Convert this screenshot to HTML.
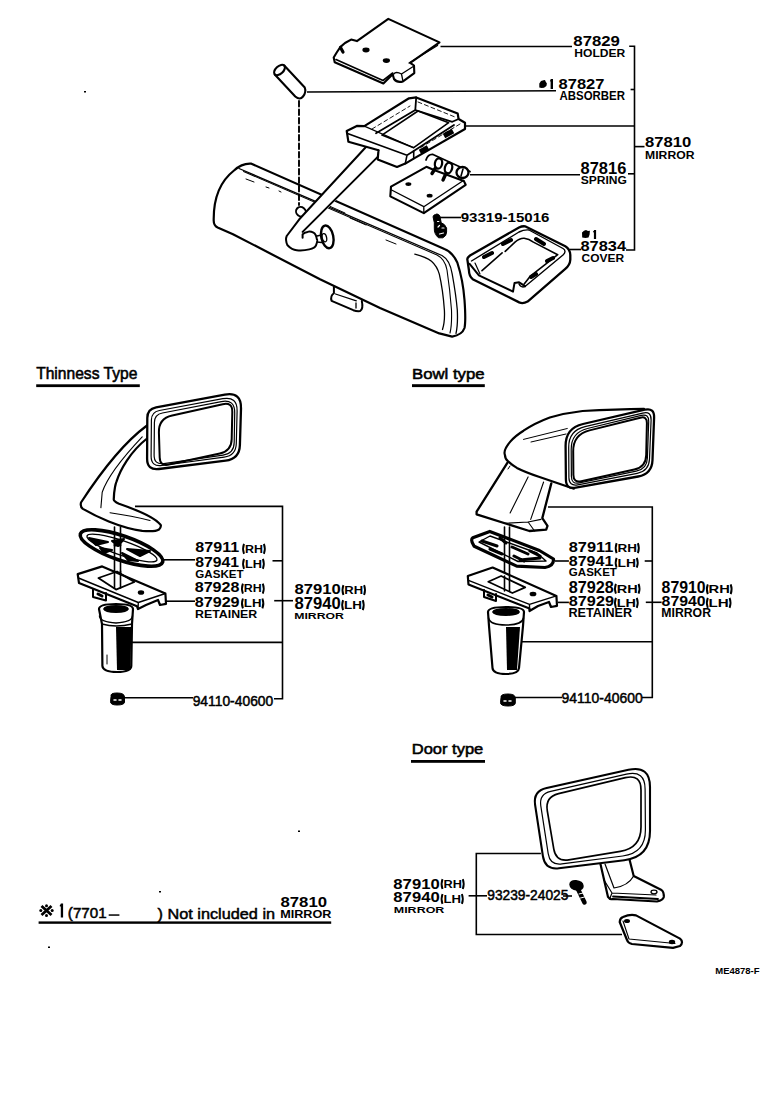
<!DOCTYPE html>
<html><head><meta charset="utf-8">
<style>
html,body{margin:0;padding:0;background:#fff;width:776px;height:1118px;overflow:hidden}
svg{display:block}
.b{font-family:"Liberation Sans",sans-serif;font-weight:bold;fill:#000}
.r{font-family:"Liberation Sans",sans-serif;fill:#000}
.l{stroke:#000;stroke-width:1.6;fill:none}
</style></head><body>
<svg width="776" height="1118" viewBox="0 0 776 1118">
<text class="b" x="573.37" y="46.30" font-size="14.97" textLength="46.55" lengthAdjust="spacingAndGlyphs">87829</text>
<text class="b" x="574.29" y="56.60" font-size="10.90" textLength="50.95" lengthAdjust="spacingAndGlyphs">HOLDER</text>
<text class="b" x="558.58" y="88.80" font-size="14.97" textLength="45.85" lengthAdjust="spacingAndGlyphs">87827</text>
<text class="b" x="559.52" y="99.50" font-size="12.35" textLength="65.42" lengthAdjust="spacingAndGlyphs">ABSORBER</text>
<text class="b" x="645.07" y="147.40" font-size="15.54" textLength="46.31" lengthAdjust="spacingAndGlyphs">87810</text>
<text class="b" x="645.09" y="158.70" font-size="11.77" textLength="49.36" lengthAdjust="spacingAndGlyphs">MIRROR</text>
<text class="b" x="580.58" y="174.30" font-size="15.96" textLength="45.72" lengthAdjust="spacingAndGlyphs">87816</text>
<text class="b" x="580.75" y="184.40" font-size="11.63" textLength="46.19" lengthAdjust="spacingAndGlyphs">SPRING</text>
<text class="b" x="580.48" y="251.10" font-size="14.83" textLength="45.61" lengthAdjust="spacingAndGlyphs">87834</text>
<text class="b" x="581.51" y="262.00" font-size="11.63" textLength="42.54" lengthAdjust="spacingAndGlyphs">COVER</text>
<text class="b" x="460.68" y="221.60" font-size="12.99" textLength="88.77" lengthAdjust="spacingAndGlyphs">93319-15016</text>
<text class="r" x="36.15" y="379.30" font-size="15.70" textLength="101.23" lengthAdjust="spacingAndGlyphs" stroke="#000" stroke-width="0.55">Thinness Type</text>
<text class="b" x="195.30" y="552.40" font-size="14.55" textLength="43.84" lengthAdjust="spacingAndGlyphs">87911</text>
<text class="b" x="244.97" y="552.60" font-size="11.05" textLength="17.97" lengthAdjust="spacingAndGlyphs">RH</text><path d="M244.0 543.9Q242.1 548.9 244.0 553.8" stroke="#000" stroke-width="1.9" fill="none"/><path d="M263.9 543.9Q265.8 548.9 263.9 553.8" stroke="#000" stroke-width="1.9" fill="none"/>
<text class="b" x="195.30" y="567.20" font-size="15.40" textLength="43.84" lengthAdjust="spacingAndGlyphs">87941</text>
<text class="b" x="244.95" y="567.60" font-size="11.05" textLength="17.01" lengthAdjust="spacingAndGlyphs">LH</text><path d="M244.0 558.9Q242.1 563.9 244.0 568.8" stroke="#000" stroke-width="1.9" fill="none"/><path d="M262.9 558.9Q264.8 563.9 262.9 568.8" stroke="#000" stroke-width="1.9" fill="none"/>
<text class="b" x="195.32" y="577.50" font-size="10.90" textLength="48.30" lengthAdjust="spacingAndGlyphs">GASKET</text>
<text class="b" x="194.69" y="592.30" font-size="13.98" textLength="44.81" lengthAdjust="spacingAndGlyphs">87928</text>
<text class="b" x="243.87" y="592.40" font-size="11.05" textLength="17.97" lengthAdjust="spacingAndGlyphs">RH</text><path d="M242.9 583.7Q241.0 588.6 242.9 593.6" stroke="#000" stroke-width="1.9" fill="none"/><path d="M262.8 583.7Q264.7 588.6 262.8 593.6" stroke="#000" stroke-width="1.9" fill="none"/>
<text class="b" x="194.69" y="607.20" font-size="14.55" textLength="44.91" lengthAdjust="spacingAndGlyphs">87929</text>
<text class="b" x="243.81" y="607.20" font-size="11.05" textLength="17.68" lengthAdjust="spacingAndGlyphs">LH</text><path d="M242.9 598.5Q241.0 603.5 242.9 608.4" stroke="#000" stroke-width="1.9" fill="none"/><path d="M262.4 598.5Q264.3 603.5 262.4 608.4" stroke="#000" stroke-width="1.9" fill="none"/>
<text class="b" x="194.99" y="617.50" font-size="10.32" textLength="62.26" lengthAdjust="spacingAndGlyphs">RETAINER</text>
<text class="b" x="294.47" y="593.80" font-size="15.25" textLength="46.31" lengthAdjust="spacingAndGlyphs">87910</text>
<text class="b" x="344.33" y="593.80" font-size="11.05" textLength="18.85" lengthAdjust="spacingAndGlyphs">RH</text><path d="M343.4 585.1Q341.5 590.0 343.4 595.0" stroke="#000" stroke-width="1.9" fill="none"/><path d="M364.1 585.1Q366.0 590.0 364.1 595.0" stroke="#000" stroke-width="1.9" fill="none"/>
<text class="b" x="294.47" y="609.00" font-size="16.67" textLength="46.31" lengthAdjust="spacingAndGlyphs">87940</text>
<text class="b" x="344.00" y="608.90" font-size="11.05" textLength="17.90" lengthAdjust="spacingAndGlyphs">LH</text><path d="M343.1 600.2Q341.2 605.1 343.1 610.1" stroke="#000" stroke-width="1.9" fill="none"/><path d="M362.8 600.2Q364.7 605.1 362.8 610.1" stroke="#000" stroke-width="1.9" fill="none"/>
<text class="b" x="294.18" y="618.50" font-size="9.74" textLength="49.77" lengthAdjust="spacingAndGlyphs">MIRROR</text>
<text class="r" x="192.66" y="705.80" font-size="14.55" textLength="80.57" lengthAdjust="spacingAndGlyphs" stroke="#000" stroke-width="0.5">94110-40600</text>
<text class="r" x="412.03" y="379.10" font-size="15.12" textLength="72.62" lengthAdjust="spacingAndGlyphs" stroke="#000" stroke-width="0.55">Bowl type</text>
<text class="b" x="568.79" y="551.70" font-size="14.41" textLength="44.55" lengthAdjust="spacingAndGlyphs">87911</text>
<text class="b" x="617.50" y="551.90" font-size="11.05" textLength="19.51" lengthAdjust="spacingAndGlyphs">RH</text><path d="M616.6 543.2Q614.7 548.1 616.6 553.1" stroke="#000" stroke-width="1.9" fill="none"/><path d="M637.9 543.2Q639.8 548.1 637.9 553.1" stroke="#000" stroke-width="1.9" fill="none"/>
<text class="b" x="568.79" y="566.30" font-size="14.69" textLength="44.55" lengthAdjust="spacingAndGlyphs">87941</text>
<text class="b" x="617.47" y="566.50" font-size="11.05" textLength="18.46" lengthAdjust="spacingAndGlyphs">LH</text><path d="M616.6 557.8Q614.7 562.8 616.6 567.7" stroke="#000" stroke-width="1.9" fill="none"/><path d="M636.8 557.8Q638.7 562.8 636.8 567.7" stroke="#000" stroke-width="1.9" fill="none"/>
<text class="b" x="568.83" y="576.30" font-size="11.19" textLength="48.10" lengthAdjust="spacingAndGlyphs">GASKET</text>
<text class="b" x="568.79" y="592.50" font-size="15.68" textLength="45.11" lengthAdjust="spacingAndGlyphs">87928</text>
<text class="b" x="616.72" y="592.50" font-size="11.05" textLength="21.06" lengthAdjust="spacingAndGlyphs">RH</text><path d="M615.9 583.8Q614.0 588.8 615.9 593.7" stroke="#000" stroke-width="1.9" fill="none"/><path d="M638.6 583.8Q640.5 588.8 638.6 593.7" stroke="#000" stroke-width="1.9" fill="none"/>
<text class="b" x="568.78" y="606.40" font-size="14.97" textLength="45.22" lengthAdjust="spacingAndGlyphs">87929</text>
<text class="b" x="616.73" y="606.60" font-size="11.05" textLength="19.24" lengthAdjust="spacingAndGlyphs">LH</text><path d="M615.9 597.9Q614.0 602.9 615.9 607.8" stroke="#000" stroke-width="1.9" fill="none"/><path d="M636.8 597.9Q638.7 602.9 636.8 607.8" stroke="#000" stroke-width="1.9" fill="none"/>
<text class="b" x="568.47" y="617.30" font-size="12.35" textLength="63.69" lengthAdjust="spacingAndGlyphs">RETAINER</text>
<text class="b" x="661.60" y="593.00" font-size="15.68" textLength="44.05" lengthAdjust="spacingAndGlyphs">87910</text>
<text class="b" x="708.61" y="593.00" font-size="11.05" textLength="21.28" lengthAdjust="spacingAndGlyphs">RH</text><path d="M707.8 584.3Q705.9 589.2 707.8 594.2" stroke="#000" stroke-width="1.9" fill="none"/><path d="M730.7 584.3Q732.6 589.2 730.7 594.2" stroke="#000" stroke-width="1.9" fill="none"/>
<text class="b" x="661.60" y="606.40" font-size="14.97" textLength="44.05" lengthAdjust="spacingAndGlyphs">87940</text>
<text class="b" x="708.58" y="606.60" font-size="11.05" textLength="20.24" lengthAdjust="spacingAndGlyphs">LH</text><path d="M707.8 597.9Q705.9 602.9 707.8 607.8" stroke="#000" stroke-width="1.9" fill="none"/><path d="M729.6 597.9Q731.5 602.9 729.6 607.8" stroke="#000" stroke-width="1.9" fill="none"/>
<text class="b" x="661.28" y="617.30" font-size="12.35" textLength="49.77" lengthAdjust="spacingAndGlyphs">MIRROR</text>
<text class="r" x="561.56" y="703.20" font-size="14.55" textLength="81.08" lengthAdjust="spacingAndGlyphs" stroke="#000" stroke-width="0.5">94110-40600</text>
<text class="r" x="411.75" y="753.80" font-size="15.12" textLength="71.49" lengthAdjust="spacingAndGlyphs" stroke="#000" stroke-width="0.55">Door type</text>
<text class="b" x="393.37" y="888.60" font-size="15.40" textLength="46.31" lengthAdjust="spacingAndGlyphs">87910</text>
<text class="b" x="443.45" y="887.80" font-size="11.05" textLength="18.41" lengthAdjust="spacingAndGlyphs">RH</text><path d="M442.5 879.1Q440.6 884.0 442.5 889.0" stroke="#000" stroke-width="1.9" fill="none"/><path d="M462.8 879.1Q464.7 884.0 462.8 889.0" stroke="#000" stroke-width="1.9" fill="none"/>
<text class="b" x="393.37" y="902.20" font-size="14.55" textLength="46.31" lengthAdjust="spacingAndGlyphs">87940</text>
<text class="b" x="443.42" y="902.70" font-size="11.05" textLength="17.57" lengthAdjust="spacingAndGlyphs">LH</text><path d="M442.5 894.0Q440.6 899.0 442.5 903.9" stroke="#000" stroke-width="1.9" fill="none"/><path d="M461.9 894.0Q463.8 899.0 461.9 903.9" stroke="#000" stroke-width="1.9" fill="none"/>
<text class="b" x="393.77" y="912.50" font-size="9.30" textLength="50.59" lengthAdjust="spacingAndGlyphs">MIRROR</text>
<text class="r" x="487.25" y="900.40" font-size="13.84" textLength="81.12" lengthAdjust="spacingAndGlyphs" stroke="#000" stroke-width="0.5">93239-24025</text>
<text class="r" x="67.86" y="917.50" font-size="14.55" textLength="38.78" lengthAdjust="spacingAndGlyphs" stroke="#000" stroke-width="0.5">(7701</text>
<text class="r" x="157.50" y="919.00" font-size="15.55" textLength="117.55" lengthAdjust="spacingAndGlyphs" stroke="#000" stroke-width="0.5">) Not included in</text>
<text class="b" x="280.47" y="907.00" font-size="13.84" textLength="46.52" lengthAdjust="spacingAndGlyphs">87810</text>
<text class="b" x="280.15" y="918.00" font-size="10.61" textLength="51.31" lengthAdjust="spacingAndGlyphs">MIRROR</text>
<text class="b" x="715.27" y="973.50" font-size="9.01" textLength="44.28" lengthAdjust="spacingAndGlyphs">ME4878-F</text>
<g class="l">
<path d="M440.5 46.5H572"/>
<path d="M307 92L556 90.8"/>
<path d="M464 126H634.5"/>
<path d="M470 174.8H580"/>
<path d="M439 217.5H461"/>
<path d="M569.5 249.5H581"/>
<path d="M629.2 46.2H634.5V250H626"/>
<path d="M630.6 89.5H634.5"/>
<path d="M634.5 146.6H644.5"/>
<path d="M628 173.8H634.5"/>
<path d="M135 506.4H282.5V698.8H274"/>
<path d="M164 559.8H195"/>
<path d="M272.5 560.8H282.5"/>
<path d="M166 601.2H195"/>
<path d="M274.2 600.7H293"/>
<path d="M131 642.4H282.5"/>
<path d="M123 697.8H193"/>
<path d="M548 507H652.3V697.5H642"/>
<path d="M555 561H568.9"/>
<path d="M644.7 561H652.3"/>
<path d="M558 602.4H568.9"/>
<path d="M645.8 602.3H661.6"/>
<path d="M522 641.8H652.3"/>
<path d="M515 697.5H562"/>
<path d="M540.9 853.5H476.3V934.5H622"/>
<path d="M468.6 895.8H487"/>
<path d="M572 896H563"/>
</g>
<g fill="#000">
<rect x="36.2" y="384.3" width="103.6" height="2.8"/>
<rect x="412" y="384.2" width="72.8" height="2.9"/>
<rect x="411" y="760" width="74" height="2.8"/>
<rect x="38.6" y="921.4" width="292.6" height="2.4"/>
<path d="M108.7 914.3H119.4V915.8H108.7Z"/>
</g>
<!-- star marks -->
<g fill="#000">
<path d="M539.3 83.5L541 81L543.5 80.2L545 79.9L545.6 81.5L546.9 83.5L546.4 86L544 87.7L541.5 88L539.3 87.5Z"/>
<path d="M582 232.5L584 230.7L586 229.9L588 231L589.9 230.7L589.6 234.5L588.5 237.5L585.5 238L582.2 237.4Z"/>
<path d="M550.6 79H553V88.9H550.6ZM549.8 81.3L550.8 79.2L551 81.8Z"/>
<path d="M593.9 229.9H596.1V238.9H593.9ZM592.9 232L594 230L594.2 232.8Z"/>
<path d="M60.8 903.4H63.1V917.5H60.8ZM59.5 906L61 903.6L61.2 907Z"/>
<rect x="298" y="830.5" width="2" height="1.5"/>
<rect x="159" y="891" width="2" height="1.5"/>
<rect x="48" y="946.5" width="2" height="1.5"/>
<rect x="84" y="91" width="2" height="1.5"/>
</g>
<g stroke="#000" stroke-width="2.8" fill="none" stroke-linecap="butt">
<path d="M41.5 906L51.5 915M51.5 906L41.5 915"/>
</g>
<g fill="#000">
<circle cx="46.5" cy="905.8" r="1.5"/><circle cx="46.5" cy="915.4" r="1.5"/><circle cx="40.8" cy="910.5" r="1.5"/><circle cx="52.2" cy="910.5" r="1.5"/>
</g>
<g id="draw" fill="none" stroke="#000" stroke-width="2" stroke-linejoin="round" stroke-linecap="round">
<!-- HOLDER -->
<path d="M388.3 18.9L439.5 42.4L410.2 62.8L414 65.5L414.3 73.1L403 81.4Q397 83 394 79L392.7 74.2L383.4 83.5L334.7 62.3L333.7 57.5L337 52L340.5 46.9L345 43L351.1 39.6L356.9 41.1Z" stroke-width="2.1"/>
<path d="M336 59.5L383 80.5L392.7 73" stroke-width="1.6"/>
<path d="M437.5 45.5L409 63" stroke-width="1.4"/>
<path d="M403 81.4L401.5 74L414 66M401.5 74Q396 71 393.7 74" stroke-width="1.3"/>
<path d="M340.5 47.5L343 52" stroke-width="3.2"/>
<ellipse cx="366" cy="50" rx="3.6" ry="2.4" fill="#000" stroke="none"/>
<ellipse cx="386.4" cy="60.6" rx="3.6" ry="2.3" fill="#000" stroke="none"/>
<!-- ABSORBER cylinder -->
<ellipse cx="279.5" cy="70" rx="6.5" ry="3.8" transform="rotate(-43 279.5 70)" stroke-width="2.1"/>
<path d="M274.75 74.43L295.25 96.43Q300 100.5 303 96.5Q306.5 92 304.75 87.57L284.25 65.57" stroke-width="2.1"/>
<!-- dashed -->
<path d="M299 101V205" stroke-width="1.9" stroke-dasharray="5.5 3"/>
<!-- MIRROR BODY outer -->
<path d="M251.4 163.7L444.4 249Q452 251.5 457.3 262.5Q463 280 464.5 300Q466 321 464.5 328Q462 335 452.2 336.6L439.3 333.4L380 307.9L320 279.3L233 234.2L217.6 227.5Q213.5 225.5 213.7 220C213.5 200 218 183 234 170.5Q242 163 251.4 163.7Z" stroke-width="2.2"/>
<path d="M239 168.5L442 255.5Q450 260 452.2 274Q456 295 457.3 310Q458 325 456 333.4" stroke-width="1.3"/>
<path d="M243.6 171.5L437 255Q445 259 447 270Q450 290 451.5 310Q452 325 450 333" stroke-width="1.1"/>
<path d="M414.8 254.1Q426 257 431.5 261.2Q437 266 439.3 274.1Q443 290 444.4 310.2Q445 322 442.5 329.5" stroke-width="1.3"/>
<path d="M246 179L254 182M266 187L269 188M279 191L281 192M327 205L345 213M350 218L366 225M386 240L396 244" stroke-width="1"/>
<!-- tab bottom -->
<path d="M333.9 287V293.2Q330 296 331.6 300.9L353.3 310.2Q357 311.5 360.2 311Q363.5 309 361.8 300.9" stroke-width="2"/>
<path d="M335.5 294L356.3 300.9M356 303V308" stroke-width="1.3"/>
<!-- knob on mirror -->
<ellipse cx="300.9" cy="211.7" rx="5" ry="4.6" transform="rotate(40 300.9 211.7)"/>
<!-- STAY ARM -->
<path d="M368.5 144.3L299.3 219.3L286.7 236L302.6 234.4L377.7 156.9Z" fill="#fff" stroke="none"/>
<path d="M368.5 144.3L299.3 219.3L286.7 236Q285 240 287.5 245.3Q292 250 296.7 250.3Q303 251 309.3 249.4Q315 248 316 245.3Q318 240 316.9 239.4Q316 234 313.5 232.7Q310 231 307.6 231.9Q304 232.5 302.6 234.4L302.6 237.7"/>
<path d="M377.7 156.9L302.6 231.9"/>
<!-- ball joint -->
<ellipse cx="327.3" cy="236.9" rx="6" ry="11.5" transform="rotate(-12 327.3 236.9)" stroke-width="2.4"/>
<ellipse cx="324.4" cy="237.7" rx="2.2" ry="4.2" transform="rotate(-12 324.4 237.7)" stroke-width="1.3"/>
<path d="M317 236L321.5 235M317 242L321.5 242.5" stroke-width="1.6"/>
<!-- BRACKET FRAME -->
<path d="M346.7 130.9L356.8 125.9L364.3 126.1L409 98.3L416.2 97.4L457.7 113.6L458.6 119L465 122.7L465 129L413.7 158.6L405.3 163.6L397 167L377.7 159.4L378.5 150.2L348.4 141.8Z" fill="#fff" stroke-width="2.2"/>
<path d="M347.5 133.4L407 155.2L413.7 151L413.7 158.6M407 155.2L405.3 163.6" stroke-width="1.6"/>
<path d="M378.5 150.2L378.5 150.2" />
<path d="M364.3 126.1L413.7 147.7" stroke-width="1.2"/>
<path d="M376 133.3L415.3 110L452.3 121.8L458.6 119M454 125L413.7 151M416.2 97.4L415.3 110" stroke-width="1.8"/>
<path d="M381.9 135.1L418 111L448.7 122.7L413.7 147.7Z" stroke-width="1.6"/>
<path d="M372 129L410 106M418 102L455 117M460 124L420 148" stroke-width="0.9" stroke-dasharray="4 3"/>
<path d="M444 136L453 131M420 152L428 147.5" stroke-width="5" stroke-linecap="butt"/>
<path d="M340 173.6L368.5 144.3M355 175L377.7 156.9" stroke-width="0"/>
<!-- SPRING PLATE -->
<path d="M391 186.7L426.4 166.8L434 170L463.8 180.9L465.7 184.8L423.8 213.1L390.3 196.4Z" fill="#fff" stroke-width="2.1"/>
<path d="M391.6 190L423.8 206.7L463.8 180.3M423.8 206.7L423.8 213.1" stroke-width="1.3"/>
<ellipse cx="408.4" cy="184.1" rx="3" ry="1.9" fill="#000" stroke="none"/>
<ellipse cx="429.6" cy="195.7" rx="3" ry="1.9" fill="#000" stroke="none"/>
<path d="M426 160Q428 154 433 154.5L470 171.5" stroke-width="1.8"/>
<ellipse cx="438.5" cy="163.5" rx="3.6" ry="5.2" transform="rotate(10 438.5 163.5)" fill="#fff" stroke-width="2.3"/>
<path d="M435.5 168L432 173.5" stroke-width="3.4"/>
<ellipse cx="448.5" cy="168" rx="3.6" ry="5.4" transform="rotate(15 448.5 168)" fill="#fff" stroke-width="2.3"/>
<path d="M446 173.5L443 180" stroke-width="3.4"/>
<ellipse cx="462.5" cy="172.5" rx="6" ry="5.5" fill="#fff" stroke-width="2.3"/>
<path d="M463 169L461 176" stroke-width="1.6"/>
<!-- SCREW -->
<path d="M437 214.2Q433 214.5 433.1 217L434.3 222.7L434.3 228.1Q434 234 438.5 237.8L442.8 237.8Q446.6 236 446.6 232L446.6 228.1Q445 224 441.2 222.7L440 216.5Q439.5 214.2 437 214.2Z" fill="#000" stroke-width="1"/>
<path d="M437.5 221.5H438.8M438 227L439.5 225.5M442 228H444M439.5 234L443.5 233" stroke="#fff" stroke-width="1.2"/>
<!-- COVER -->
<path d="M525 226.3L565.3 246.3Q570 249 570.3 255L570.3 259.7Q570 265 565.3 268.9L527.6 301.6Q523 304 519.2 302.4L472.7 279.2Q469 276 468.9 270L467.3 259.1Q467.5 257.5 470 255.5L519 227.5Q522 226 525 226.3Z" stroke-width="2.3"/>
<path d="M471.5 261L519 232Q524 229.5 529 230L563 248.5Q567 251 563 255L525 286.5Q521 288 519 284" stroke-width="1.4"/>
<path d="M469.6 263.8L478.9 275.4L513 291.6L514.5 283.1L519.1 282.3L525 286.2" stroke-width="2"/>
<path d="M475 263L480 274" stroke-width="1.2"/>
<path d="M482 270.7L502.1 252.9M505.2 251.4L515 242.1Q520 238 524.2 238.3Q529 239 533.4 242.1L557.7 254.7L546 263.9L530 276.4L524.2 284" stroke-width="1.6"/>
<path d="M484 257L492 253M503 244L511 240M536 239L544 244M547 261L553 258M531 277L536 274" stroke-width="4"/>
<path d="M147 425.5C130 438 110 458 81 502.5Q80 507 82.9 508.9C95 516 120 528 142.2 530.8Q155 532 159 529.5Q162 526 160.2 524.4C155 518 140 511 119 503.8Q113 501 113.8 498.6C114 490 116 482 116.4 481.9C120 470 130 452 147 438.5" fill="#fff" stroke-width="2.2"/>
<path d="M142.2 436.8C125 455 108 475 102.2 492.2L100.9 507.6M110 512.8C125 515 140 518 150 520.5" stroke-width="1.1"/>
<path d="M156.1 407.4L224.8 394.6 Q241.5 391.5 241.0 408.5L239.9 445.0 Q239.5 459.0 225.6 460.7L158.9 469.0 Q147.0 470.5 147.1 458.5L147.3 418.0 Q147.3 409.0 156.1 407.4Z" fill="#fff" stroke-width="2.3"/>
<path d="M159.4 410.5L222.8 398.7 Q237.5 396.0 237.1 411.0L236.3 443.5 Q236.0 455.5 224.1 457.1L161.9 465.5 Q151.0 467.0 151.1 456.0L151.4 420.0 Q151.5 412.0 159.4 410.5Z" stroke-width="1.2"/>
<path d="M162.4 413.0L221.3 401.6 Q235.0 399.0 234.7 413.0L234.2 442.5 Q234.0 453.5 223.1 455.1L163.9 463.6 Q154.0 465.0 154.1 455.0L154.4 422.5 Q154.5 414.5 162.4 413.0Z" stroke-width="1.2"/>
<path d="M172.2 415.5L222.7 404.2 Q232.5 402.0 232.3 412.0L231.7 439.0 Q231.5 451.0 219.8 453.5L168.8 464.6 Q160.0 466.5 159.7 457.5L158.9 432.5 Q158.5 418.5 172.2 415.5Z" stroke-width="2"/>
<ellipse cx="121.5" cy="548" rx="43.5" ry="12.2" transform="rotate(19 121.5 548)" stroke-width="3.6"/>
<ellipse cx="122" cy="548" rx="37" ry="7.2" transform="rotate(19 122 548)" stroke-width="1.4"/>
<path d="M89 538L108 542L96 545ZM112 541L124 539L118 546ZM127 549L150 551L140 556ZM122 553L138 561L128 560ZM100 548L112 550L104 553Z" fill="#000" stroke-width="2"/>
<path d="M114.5 527V585M120.5 527V585" stroke-width="1.6"/>
<path d="M115 545H120" stroke-width="3"/>
<path d="M77.7 574.1L102.2 566.4L165.4 593.5L166 603.8L160 605L158 600L146 605L138 609L137 606.3L79 583.1Z" fill="#fff" stroke-width="2.2"/>
<path d="M78.5 578L138.3 602.5L165.4 593.5M138.3 602.5L138 609" stroke-width="1.4"/>
<path d="M98.4 578L117 571.5L134.4 582L116 589.6Z" stroke-width="1.8"/>
<path d="M114.5 571V588M120.5 571V588" stroke-width="1.6"/>
<ellipse cx="141" cy="592.5" rx="3.2" ry="2.3" fill="#000" stroke="none"/>
<path d="M93 589L93 597L106 600.5L106 593" stroke-width="2"/>
<path d="M98 594L102 596" stroke-width="3"/>
<path d="M99 609Q99 604 116 604Q133 604 133 609L132 624L131.3 666Q131 672 117 672Q103 672 102.4 666L102 624Z" fill="#fff" stroke-width="2.2"/>
<path d="M99.5 616Q100 622 116 623Q132 622 132.5 616M102 624Q116 628 132 624" stroke-width="1.5"/>
<path d="M104 609Q105 612 116 612Q127 612 128 609Q127 606 116 606Q105 606 104 609Z" stroke-width="1.8" fill="#000"/>
<path d="M116 627L117 670H130.5L131.3 627Z" fill="#000" stroke="none"/>
<path d="M107 655V664" stroke-width="1"/>
<path d="M111 696Q110 693 117 693Q124.5 693 124.5 697V702Q124.5 705 117 705Q110.5 705 110.5 702Z" fill="#000" stroke-width="1"/>
<path d="M114 700H116M119 700H121" stroke="#fff" stroke-width="1.5"/>
<path d="M507.5 462.7L476.6 511.7L476.6 514.3L529.4 531L546.2 529.7L547.5 525.9L542.3 518.1L551.3 483.4" fill="#fff" stroke-width="2.3"/>
<path d="M528.1 476.9L510.1 513M543.6 482L530.7 519.4M505 523.3L528.1 522L541 519.4M528.1 522L534.6 531" stroke-width="1.1"/>
<path d="M644 408.8C620 409 600 410 582.6 411C565 413 549.8 417.5 549.8 417.5C535 423 523.5 430.7 523.5 430.7C515 436 510.3 441.6 510.3 441.6Q503 450 504.9 454.8Q505 459 508.1 461.3C512 465 516.9 467.9 516.9 467.9C525 472 538.8 476.7 538.8 476.7L573.9 488.7" fill="#fff" stroke-width="2.2"/>
<path d="M523.5 439.4L567.3 428.5M531 442L566 434M510 466L508 469" stroke-width="1"/>
<path d="M583.0 424.0L644.8 409.7 Q654.5 407.5 654.1 417.5L652.5 460.0 Q652.0 474.0 638.2 476.5L575.8 487.7 Q566.0 489.5 565.9 479.5L565.6 446.0 Q565.5 428.0 583.0 424.0Z" fill="#fff" stroke-width="2.3"/>
<path d="M585.0 426.6L642.7 413.1 Q651.5 411.0 651.1 420.0L649.5 459.0 Q649.0 471.0 637.2 473.3L577.8 484.8 Q569.0 486.5 568.9 477.5L568.7 447.5 Q568.5 430.5 585.0 426.6Z" stroke-width="1.2"/>
<path d="M587.5 428.5L641.2 415.4 Q649.0 413.5 648.7 421.5L647.4 458.0 Q647.0 469.0 636.2 471.2L579.3 482.9 Q571.5 484.5 571.4 476.5L571.2 449.5 Q571.0 432.5 587.5 428.5Z" stroke-width="1.2"/>
<path d="M589.5 430.4L640.2 417.7 Q647.0 416.0 646.9 423.0L646.2 455.0 Q646.0 467.0 634.3 469.6L581.3 481.3 Q573.5 483.0 573.4 475.0L573.2 451.5 Q573.0 434.5 589.5 430.4Z" stroke-width="2"/>
<path d="M474.2 546.3Q470 540 472.8 537.8L489.8 531.4L539.4 550.5L553.5 559Q554 566 545 567.5L516.7 566.1Z" stroke-width="3.2"/>
<path d="M479 542L490 536L537 553L546 561L518 561.5Z" stroke-width="1.4"/>
<path d="M482 541L497 546M490 549L502 554M512 547L528 554M520 560L540 558M500 538L506 543M514 556L524 561M530 551L540 556" stroke-width="3"/>
<path d="M504.5 527V583M509.5 527V583" stroke-width="1.6"/>
<path d="M467.8 576L492.6 567.5L556.4 595.9L557 605.8L551 607L549 602L538 606L529.5 611L529.5 608.6L468.5 584.5Z" fill="#fff" stroke-width="2.2"/>
<path d="M468.5 580.3L529.5 604.4L556.4 595.9M529.5 604.4L529.5 610" stroke-width="1.4"/>
<path d="M488.3 581.7L501.1 576L525.2 587.4L512.4 593Z" stroke-width="1.8"/>
<path d="M504.5 576V591M509.5 576V591" stroke-width="1.6"/>
<ellipse cx="533" cy="594" rx="3.4" ry="2.3" fill="#000" stroke="none"/>
<path d="M484 590L484 597L496 601L496 594" stroke-width="2"/>
<path d="M488 595L492 597" stroke-width="3"/>
<path d="M488 612Q488 607 506 607Q524 607 524 612L523 626L519 668Q518.5 674 506 674Q493 674 492.5 668L489 626Z" fill="#fff" stroke-width="2.2"/>
<path d="M488.5 618Q490 625 506 625Q522 625 523.5 618" stroke-width="1.5"/>
<path d="M493 612Q494 615 506 615Q518 615 519 612Q518 609 506 609Q494 609 493 612Z" stroke-width="1.8" fill="#000"/>
<path d="M506 627L507 670H517L520 627Z" fill="#000" stroke="none"/>
<path d="M501 697Q500.3 694 508 694Q515.3 694 515.3 698V703Q515.3 706 508 706Q500.5 706 500.5 703Z" fill="#000" stroke-width="1"/>
<path d="M504 701H506M509 701H511" stroke="#fff" stroke-width="1.5"/>
<path d="M600 862L608 896.9Q610 900 612.8 899L656.9 901.5Q663 900 663.8 896.9Q664 892 661.5 890L633.7 876L629 857.4" fill="#fff" stroke-width="2.2"/>
<path d="M604 880L612 893L656 895M612 893L610 898M605 864L614 888M633.7 876Q628 886 614 888" stroke-width="1.2"/>
<path d="M613 896.5L658 899" stroke-width="1.8"/>
<ellipse cx="654" cy="892" rx="3" ry="1.8" stroke-width="1.3"/>
<path d="M546.7 788.0L628.5 769.8 Q650.0 765.0 650.0 787.0L650.0 831.0 Q650.0 857.0 624.2 860.2L558.9 868.3 Q545.0 870.0 542.9 856.2L535.1 804.8 Q533.0 791.0 546.7 788.0Z" fill="#fff" stroke-width="2.1"/>
<path d="M550.7 791.4L626.5 774.2 Q645.0 770.0 645.1 789.0L645.4 830.0 Q645.5 853.0 622.7 856.0L561.9 863.9 Q550.0 865.5 548.2 853.6L540.8 805.9 Q539.0 794.0 550.7 791.4Z" stroke-width="1.2"/>
<path d="M558.6 793.7L625.4 777.7 Q641.0 774.0 641.0 790.0L641.0 827.0 Q641.0 848.0 620.3 851.4L568.8 859.9 Q556.0 862.0 553.8 849.2L547.3 810.8 Q545.0 797.0 558.6 793.7Z" stroke-width="1.7"/>
<path d="M584.5 902.5L577 887" stroke-width="4.5" stroke-linecap="round"/>
<path d="M570 884.5Q570 880.5 576 880.8Q582.5 881.5 583 886Q583 890 577 890Q570.5 889.5 570 884.5Z" fill="#000" stroke-width="1.5"/>
<path d="M579 894L583 893M580.5 898L584.5 897" stroke="#fff" stroke-width="1"/>
<path d="M623 917Q630 914 636 915.4L680 938.6Q684 942 680 946L673 947.9L632 944Q628 943 627 940L619.7 922Q620 918 623 917Z" stroke-width="2.2"/>
<path d="M623 921L629 939L675 943.5" stroke-width="1.1"/>
<ellipse cx="627" cy="921" rx="3" ry="2" fill="#000" stroke="none"/>
<ellipse cx="672" cy="942" rx="3.2" ry="2.2" fill="#000" stroke="none"/>
</g>
</svg>
</body></html>
